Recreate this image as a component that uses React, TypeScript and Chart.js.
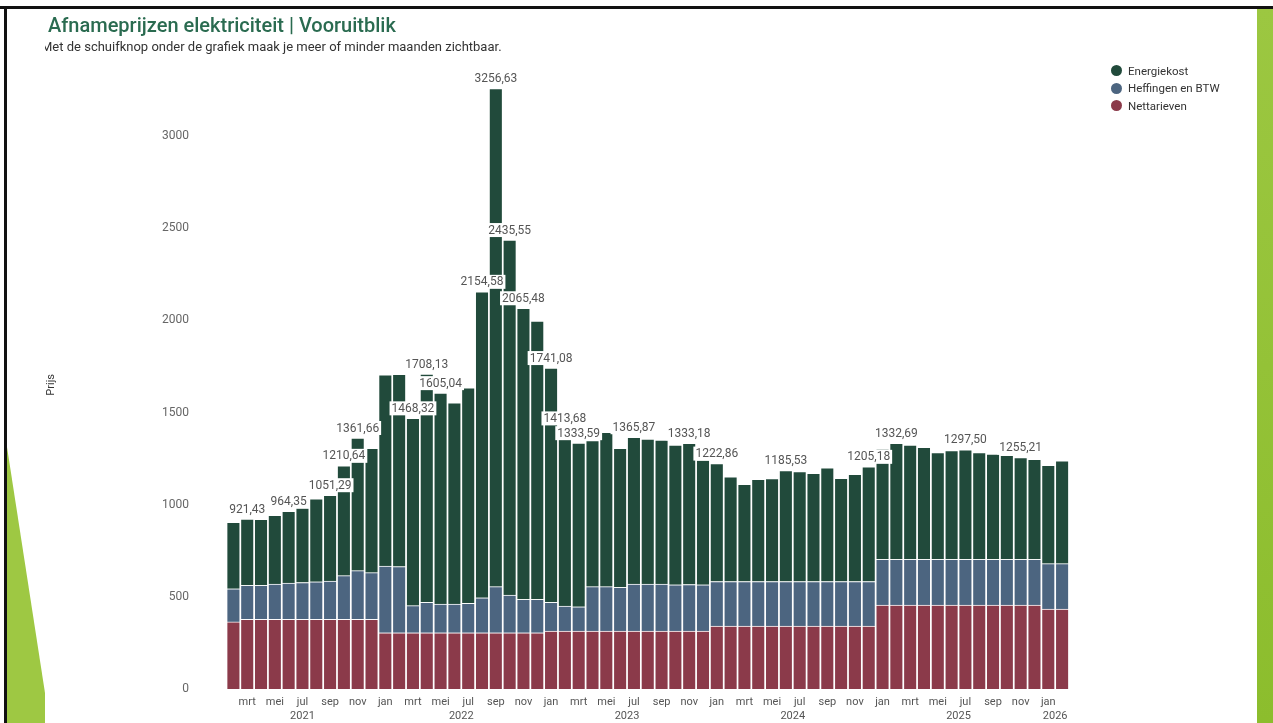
import React, { useEffect, useRef } from "react";
import { Chart, registerables } from "chart.js";

Chart.register(...registerables);

// ---- Data -------------------------------------------------------------
const MONTH_NAMES = ["jan", "feb", "mrt", "apr", "mei", "jun", "jul", "aug", "sep", "okt", "nov", "dec"];
const START_YEAR = 2021;
const START_MONTH = 1; // feb 2021
const BAR_COUNT = 61; // feb 2021 .. feb 2026

const monthIndex: number[] = [];
const yearOf: number[] = [];
for (let i = 0; i < BAR_COUNT; i++) {
  const m = START_MONTH + i;
  monthIndex.push(m % 12);
  yearOf.push(START_YEAR + Math.floor(m / 12));
}
const categories = monthIndex.map((m, i) => MONTH_NAMES[m] + " " + yearOf[i]);

const nettarieven = [
  364, 378, 378, 378, 378, 378, 378, 378, 378, 378, 378,
  305, 305, 305, 305, 305, 305, 305, 305, 305, 305, 305, 305,
  314, 314, 314, 314, 314, 314, 314, 314, 314, 314, 314, 314,
  342, 342, 342, 342, 342, 342, 342, 342, 342, 342, 342, 342,
  455, 455, 455, 455, 455, 455, 455, 455, 455, 455, 455, 455,
  434, 434,
];

const heffingen = [
  180, 184, 184, 191, 197, 200, 204, 208, 237, 264, 253,
  362, 359, 147, 165, 156, 156, 160, 190, 250, 205, 181, 181,
  156, 136, 132, 241, 241, 237, 255, 255, 255, 251, 253, 251,
  241, 241, 241, 241, 241, 241, 241, 241, 241, 241, 241, 241,
  248, 248, 248, 248, 248, 248, 248, 248, 248, 248, 248, 248,
  246, 246,
];

const energiekost = [
  360, 359.43, 358, 373, 389.35, 403, 450, 465.29, 595.64, 719.66, 674,
  1037, 1043, 1016.32, 1238.13, 1144.04, 1092, 1169, 1659.58, 2701.63, 1925.55, 1579.48, 1510,
  1271.08, 963.68, 887.59, 792, 837, 754, 796.87, 787, 781, 758, 766.18, 677,
  639.86, 568, 527, 554, 558, 602.53, 596, 587, 617, 560, 581, 622.18,
  598, 629.69, 620, 608, 579, 590, 594.5, 579, 571, 564, 552.21, 543,
  533, 558,
];

// bars that carry a total label
const labeledBars = [1, 4, 7, 8, 9, 13, 14, 15, 18, 19, 20, 21, 23, 24, 25, 29, 33, 35, 40, 46, 48, 53, 57];

const yTicks = [0, 500, 1000, 1500, 2000, 2500, 3000];

const COLORS = {
  energie: "#214a3b",
  heff: "#4c6580",
  net: "#8b3a4a",
};

const FONT = "Roboto, 'Open Sans', sans-serif";

// ---- Plugins ------------------------------------------------------------
const totalLabelsPlugin = {
  id: "totalLabels",
  afterDatasetsDraw(chart: any) {
    const { ctx, scales } = chart;
    const x = scales.x;
    const y = scales.y;
    ctx.save();
    ctx.font = `12px ${FONT}`;
    ctx.textAlign = "center";
    ctx.textBaseline = "middle";
    labeledBars.forEach((i) => {
      const total = energiekost[i] + heffingen[i] + nettarieven[i];
      const txt = total.toFixed(2).replace(".", ",");
      const px = x.getPixelForValue(i);
      const py = y.getPixelForValue(total) - 10;
      const w = ctx.measureText(txt).width + 4;
      ctx.fillStyle = "#ffffff";
      ctx.fillRect(px - w / 2, py - 7, w, 14);
      ctx.fillStyle = "#555555";
      ctx.fillText(txt, px, py + 0.5);
    });
    ctx.restore();
  },
};

const yearLabelsPlugin = {
  id: "yearLabels",
  afterDraw(chart: any) {
    const { ctx, scales } = chart;
    const x = scales.x;
    const groups: Record<number, number[]> = {};
    yearOf.forEach((yr, i) => {
      (groups[yr] = groups[yr] || []).push(i);
    });
    ctx.save();
    ctx.font = `11px ${FONT}`;
    ctx.fillStyle = "#555555";
    ctx.textAlign = "center";
    ctx.textBaseline = "middle";
    Object.keys(groups).forEach((k) => {
      const idx = groups[Number(k)];
      const cx = (x.getPixelForValue(idx[0]) + x.getPixelForValue(idx[idx.length - 1])) / 2;
      ctx.fillText(k, cx, 716);
    });
    ctx.restore();
  },
};

// ---- Component ------------------------------------------------------------
export default function App() {
  const canvasRef = useRef<HTMLCanvasElement | null>(null);

  useEffect(() => {
    document.body.style.margin = "0";
    const canvas = canvasRef.current;
    if (!canvas) return;
    const border = { top: 1, left: 1.2, right: 1.2, bottom: 0 };
    const common = {
      borderColor: "rgba(255,255,255,0.85)",
      borderWidth: border,
      borderSkipped: false,
      categoryPercentage: 1,
      barPercentage: 1,
    };
    const chart = new Chart(canvas, {
      type: "bar",
      data: {
        labels: categories,
        datasets: [
          { label: "Nettarieven", data: nettarieven, backgroundColor: COLORS.net, ...common },
          { label: "Heffingen en BTW", data: heffingen, backgroundColor: COLORS.heff, ...common },
          { label: "Energiekost", data: energiekost, backgroundColor: COLORS.energie, ...common },
        ] as any,
      },
      options: {
        responsive: false,
        animation: false,
        events: [],
        layout: { padding: { left: 45, right: 204, top: 80.7, bottom: 0 } },
        plugins: {
          legend: { display: false },
          tooltip: { enabled: false },
          title: { display: false },
        },
        scales: {
          x: {
            type: "category",
            stacked: true,
            grid: { display: false, drawTicks: false },
            border: { display: false },
            ticks: {
              autoSkip: false,
              maxRotation: 0,
              minRotation: 0,
              padding: 7,
              color: "#555555",
              font: { family: FONT, size: 11 },
              callback: (_v: any, i: number) => (monthIndex[i] % 2 === 0 ? MONTH_NAMES[monthIndex[i]] : ""),
            },
            afterFit: (scale: any) => {
              scale.height = 34;
            },
          },
          y: {
            type: "linear",
            stacked: true,
            min: 0,
            max: 3300,
            grid: { display: false, drawTicks: false },
            border: { display: false },
            ticks: {
              padding: 37.5,
              color: "#666666",
              font: { family: FONT, size: 12 },
              callback: (v: any) => String(v),
            },
            afterBuildTicks: (scale: any) => {
              scale.ticks = yTicks.map((v) => ({ value: v }));
            },
            afterFit: (scale: any) => {
              scale.width = 181.5;
              scale.paddingTop = 0;
              scale.paddingBottom = 0;
            },
            title: {
              display: true,
              text: "Prijs",
              color: "#333333",
              padding: 0,
              font: { family: FONT, size: 11 },
            },
          },
        },
      } as any,
      plugins: [totalLabelsPlugin, yearLabelsPlugin],
    });
    return () => chart.destroy();
  }, []);

  const legendItems = [
    { label: "Energiekost", color: COLORS.energie },
    { label: "Heffingen en BTW", color: COLORS.heff },
    { label: "Nettarieven", color: COLORS.net },
  ];

  return (
    <div
      style={{
        position: "fixed",
        left: 0,
        top: 0,
        width: 1273,
        height: 723,
        background: "#ffffff",
        overflow: "hidden",
        fontFamily: FONT,
      }}
    >
      <canvas ref={canvasRef} width={1273} height={723} style={{ position: "absolute", left: 0, top: 0 }} />

      {/* slide frame decorations */}
      <div style={{ position: "absolute", left: 0, top: 6, width: 1273, height: 3, background: "#111" }} />
      <div style={{ position: "absolute", left: 4, top: 6, width: 3, height: 717, background: "#111" }} />
      <svg width={1273} height={723} style={{ position: "absolute", left: 0, top: 0, pointerEvents: "none" }}>
        <defs>
          <linearGradient id="gstrip" x1="0" y1="0" x2="0" y2="1">
            <stop offset="0" stopColor="#9cc741" />
            <stop offset="1" stopColor="#8cbd2d" />
          </linearGradient>
        </defs>
        <polygon points="7,447 45,693 45,723 7,723" fill="#9ec843" />
        <rect x={1257} y={9} width={16} height={714} fill="url(#gstrip)" />
      </svg>

      {/* title & subtitle */}
      <div
        style={{
          position: "absolute",
          left: 48,
          top: 13,
          fontSize: 20,
          lineHeight: "24px",
          fontWeight: 500,
          color: "#2a6b50",
          whiteSpace: "nowrap",
        }}
      >
        Afnameprijzen elektriciteit | Vooruitblik
      </div>
      <div
        style={{
          position: "absolute",
          left: 45,
          top: 39,
          width: 600,
          overflow: "hidden",
          fontSize: 13,
          lineHeight: "16px",
          color: "#333333",
          whiteSpace: "nowrap",
        }}
      >
        <span style={{ marginLeft: -4 }}>Met de schuifknop onder de grafiek maak je meer of minder maanden zichtbaar.</span>
      </div>

      {/* legend */}
      <div style={{ position: "absolute", left: 1111, top: 62 }}>
        {legendItems.map((it) => (
          <div key={it.label} style={{ display: "flex", alignItems: "center", height: 17.5 }}>
            <span
              style={{
                display: "inline-block",
                width: 11,
                height: 11,
                borderRadius: "50%",
                background: it.color,
                marginRight: 6,
              }}
            />
            <span style={{ fontSize: 11.5, color: "#333333", whiteSpace: "nowrap" }}>{it.label}</span>
          </div>
        ))}
      </div>
    </div>
  );
}
